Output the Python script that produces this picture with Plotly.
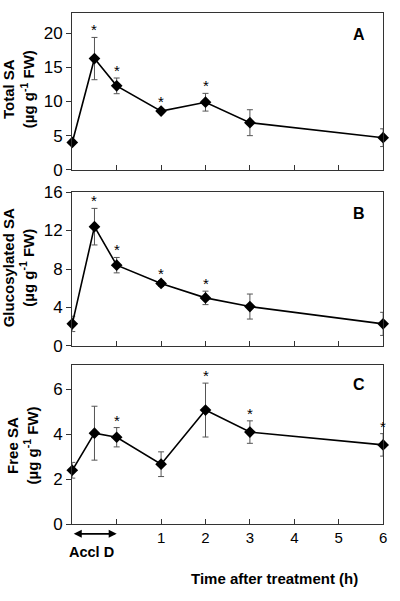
import plotly.graph_objects as go

x_pos = [-1, -0.5, 0, 1, 2, 3, 6]

total_sa = [4.0, 16.3, 12.3, 8.6, 9.9, 6.9, 4.7]
total_err = [0.3, 3.1, 1.15, 0.3, 1.3, 1.9, 1.3]
total_star = [False, True, True, True, True, False, False]

gluc_sa = [2.3, 12.4, 8.4, 6.5, 5.0, 4.1, 2.3]
gluc_err = [0.8, 1.9, 0.8, 0.3, 0.7, 1.3, 1.2]
gluc_star = [False, True, True, True, True, False, False]

free_sa = [2.4, 4.05, 3.87, 2.67, 5.08, 4.1, 3.53]
free_err = [0.35, 1.2, 0.43, 0.55, 1.2, 0.5, 0.5]
free_star = [False, False, True, False, True, True, True]

panels = [
    ("A", "Total SA", total_sa, total_err, total_star, [0, 23], [0, 5, 10, 15, 20]),
    ("B", "Glucosylated SA", gluc_sa, gluc_err, gluc_star, [0, 16], [0, 4, 8, 12, 16]),
    ("C", "Free SA", free_sa, free_err, free_star, [0, 7.07], [0, 2, 4, 6]),
]

H = 601.0
W = 400.0
x_dom = [73 / W, 387 / W]
y_doms = [
    [1 - 166 / H, 1 - 4 / H],
    [1 - 348 / H, 1 - 189 / H],
    [1 - 532 / H, 1 - 368 / H],
]
title_centers = [(19, 83), (19, 267), (23, 451)]
letter_y = [26, 211, 388]

FONT = "Liberation Sans, Arial, Helvetica, sans-serif"

fig = go.Figure()
layout = dict(
    width=400, height=601,
    margin=dict(l=0, r=0, t=0, b=0),
    paper_bgcolor="white", plot_bgcolor="white",
    showlegend=False,
    font=dict(family=FONT, color="black"),
)
annotations = []

for i, (letter, title, vals, errs, stars, yr, yt) in enumerate(panels):
    n = "" if i == 0 else str(i + 1)
    xa = "x" + n
    ya = "y" + n
    fig.add_trace(go.Scatter(
        x=x_pos, y=vals, mode="lines+markers",
        line=dict(color="black", width=1.6),
        marker=dict(symbol="diamond", size=9, color="black"),
        error_y=dict(type="data", array=errs, visible=True, color="#555555",
                     thickness=1, width=3),
        xaxis=xa, yaxis=ya, cliponaxis=False,
    ))
    for x, v, e, s in zip(x_pos, vals, errs, stars):
        if s:
            annotations.append(dict(
                xref=xa, yref=ya, x=x, y=v + e, text="*", showarrow=False,
                yanchor="bottom", xanchor="center", yshift=-3,
                font=dict(size=15, family=FONT, color="black"),
            ))
    is_bottom = (i == 2)
    layout["xaxis" + n] = dict(
        domain=x_dom, range=[-1, 6], anchor=ya,
        showline=True, linecolor="#333333", linewidth=1.2, mirror=True,
        ticks="inside", ticklen=5, tickcolor="#333333",
        tickvals=[0, 1, 2, 3, 4, 5, 6],
        ticktext=["", "1", "2", "3", "4", "5", "6"],
        showticklabels=is_bottom,
        tickfont=dict(size=15, family=FONT, color="black"),
        showgrid=False, zeroline=False, fixedrange=True,
    )
    layout["yaxis" + n] = dict(
        domain=y_doms[i], range=yr, anchor=xa,
        showline=True, linecolor="#333333", linewidth=1.2, mirror=True,
        ticks="outside", ticklen=5, tickcolor="#333333",
        tickvals=yt,
        tickfont=dict(size=17, family=FONT, color="black"),
        showgrid=False, zeroline=False, fixedrange=True,
    )
    cx, cy = title_centers[i]
    annotations.append(dict(
        xref="paper", yref="paper", x=cx / W, y=1 - cy / H,
        text="<b>" + title + "<br>(µg g<sup>-1</sup> FW)</b>",
        showarrow=False, textangle=-90,
        font=dict(size=15, family=FONT, color="black"),
        xanchor="center", yanchor="middle",
    ))
    annotations.append(dict(
        xref="paper", yref="paper", x=363 / W, y=1 - letter_y[i] / H,
        text="<b>" + letter + "</b>", showarrow=False,
        font=dict(size=16, family=FONT, color="black"),
        xanchor="center", yanchor="middle",
    ))

annotations.append(dict(
    xref="x3", yref="paper", x=0, y=1 - 542 / H,
    axref="x3", ayref="pixel", ax=-1, ay=0,
    text="", showarrow=True, arrowhead=2, arrowside="end+start",
    arrowwidth=1.6, arrowcolor="black", arrowsize=1,
))
annotations.append(dict(
    xref="paper", yref="paper", x=92 / W, y=1 - 561 / H,
    text="<b>Accl D</b>", showarrow=False,
    font=dict(size=14.5, family=FONT, color="black"),
    xanchor="center", yanchor="middle",
))
annotations.append(dict(
    xref="paper", yref="paper", x=277 / W, y=1 - 588 / H,
    text="<b>Time after treatment (h)</b>", showarrow=False,
    font=dict(size=15, family=FONT, color="black"),
    xanchor="center", yanchor="middle",
))
layout["annotations"] = annotations
fig.update_layout(**layout)
fig.write_html(
    "out.html",
    config={"displayModeBar": False, "staticPlot": True},
    post_script="document.body.style.margin='0';document.body.style.overflow='hidden';",
)
